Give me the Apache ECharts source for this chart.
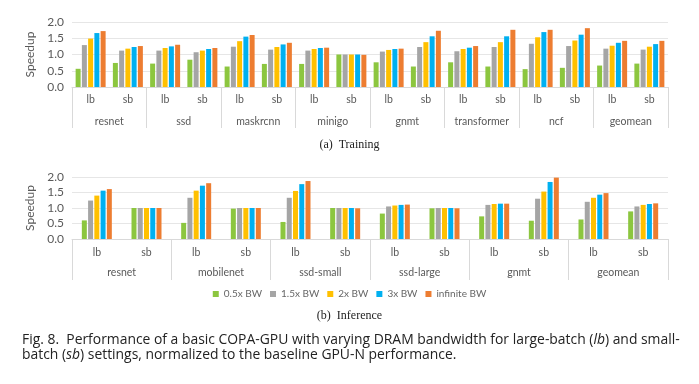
<!DOCTYPE html>
<html><head><meta charset="utf-8">
<script src="https://cdn.jsdelivr.net/npm/echarts@6/dist/echarts.min.js"></script>
<style>html,body{margin:0;padding:0;background:#fff;}#c{width:699px;height:384px;}</style>
</head><body><div id="c"></div>
<script>
var seriesNames = ['0.5x BW', '1.5x BW', '2x BW', '3x BW', 'infinite BW'];
var colors = ['#8cc63f', '#a5a5a5', '#ffc000', '#00b0f0', '#ed7d31'];
var subLabels = ['lb', 'sb'];
var trainGroups = ['resnet', 'ssd', 'maskrcnn', 'minigo', 'gnmt', 'transformer', 'ncf', 'geomean'];
var inferGroups = ['resnet', 'mobilenet', 'ssd-small', 'ssd-large', 'gnmt', 'geomean'];
var yTicks = [0, 0.5, 1.0, 1.5, 2.0];

// Training values: one array per bandwidth, order = group lb, group sb, ...
var train05 = [0.56, 0.74, 0.72, 0.84, 0.63, 0.71, 0.71, 1.00, 0.76, 0.63, 0.76, 0.63, 0.55, 0.59, 0.66, 0.72];
var train15 = [1.29, 1.12, 1.12, 1.07, 1.24, 1.15, 1.12, 1.00, 1.09, 1.23, 1.10, 1.23, 1.33, 1.26, 1.18, 1.15];
var train2  = [1.49, 1.18, 1.20, 1.12, 1.41, 1.23, 1.17, 1.00, 1.14, 1.38, 1.17, 1.38, 1.53, 1.43, 1.27, 1.24];
var train3  = [1.66, 1.23, 1.25, 1.17, 1.55, 1.31, 1.20, 1.00, 1.17, 1.56, 1.21, 1.56, 1.69, 1.61, 1.36, 1.32];
var trainInf= [1.72, 1.26, 1.30, 1.20, 1.60, 1.36, 1.21, 0.99, 1.18, 1.73, 1.26, 1.76, 1.76, 1.81, 1.42, 1.42];

// Inference values
var infer05 = [0.60, 1.00, 0.52, 0.98, 0.55, 1.00, 0.82, 0.99, 0.73, 0.59, 0.63, 0.89];
var infer15 = [1.24, 1.00, 1.33, 1.00, 1.33, 1.00, 1.05, 1.00, 1.10, 1.30, 1.20, 1.05];
var infer2  = [1.40, 1.00, 1.56, 1.00, 1.55, 1.00, 1.08, 1.00, 1.13, 1.53, 1.33, 1.10];
var infer3  = [1.56, 1.00, 1.72, 1.00, 1.77, 1.00, 1.10, 1.00, 1.14, 1.84, 1.43, 1.13];
var inferInf= [1.61, 1.00, 1.80, 1.00, 1.87, 0.99, 1.11, 0.99, 1.14, 1.98, 1.48, 1.15];

var trainData = [train05, train15, train2, train3, trainInf];
var inferData = [infer05, infer15, infer2, infer3, inferInf];

function subCats(groups) {
  var out = [];
  groups.forEach(function (g) { subLabels.forEach(function (s) { out.push(s); }); });
  return out;
}

var labelFont = 'Lato, "Open Sans", sans-serif';
var txtColor = '#595959';
var lineColor = '#d9d9d9';

function yAxis(gi) {
  return {
    gridIndex: gi, type: 'value', min: 0, max: 2, interval: 0.5,
    name: 'Speedup', nameLocation: 'middle', nameGap: 21, nameRotate: 90,
    nameTextStyle: { color: txtColor, fontSize: 12, fontFamily: labelFont },
    axisLabel: { color: txtColor, fontSize: 12, fontFamily: labelFont, margin: 8,
      formatter: function (v) { return v.toFixed(1); } },
    axisLine: { show: false }, axisTick: { show: false },
    splitLine: { lineStyle: { color: '#e6e6e6', width: 1 } }
  };
}
function subAxis(gi, groups, margin) {
  return {
    gridIndex: gi, type: 'category', data: subCats(groups), position: 'bottom',
    axisLine: { show: true, lineStyle: { color: lineColor } },
    axisTick: { show: false },
    axisLabel: { color: txtColor, fontSize: 10.5, fontFamily: labelFont, margin: margin, interval: 0 }
  };
}
function groupAxis(gi, groups, margin, tickLen) {
  return {
    gridIndex: gi, type: 'category', data: groups, position: 'bottom',
    axisLine: { show: false },
    axisTick: { show: true, length: tickLen, lineStyle: { color: lineColor } },
    axisLabel: { color: txtColor, fontSize: 10.5, fontFamily: labelFont, margin: margin, interval: 0 }
  };
}

var series = [];
seriesNames.forEach(function (n, i) {
  series.push({ name: n, type: 'bar', xAxisIndex: 0, yAxisIndex: 0, data: trainData[i],
    barWidth: 5, barGap: '25%', itemStyle: { color: colors[i] }, animation: false });
});
seriesNames.forEach(function (n, i) {
  series.push({ name: n, type: 'bar', xAxisIndex: 2, yAxisIndex: 1, data: inferData[i],
    barWidth: 5, barGap: '25%', itemStyle: { color: colors[i] }, animation: false });
});

var chart = echarts.init(document.getElementById('c'));
chart.setOption({
  animation: false,
  grid: [
    { left: 72, right: 31, top: 22, height: 65 },
    { left: 72, right: 31, top: 177, height: 62 }
  ],
  xAxis: [
    subAxis(0, trainGroups, 7),
    groupAxis(0, trainGroups, 29, 41),
    subAxis(1, inferGroups, 8),
    groupAxis(1, inferGroups, 28, 41)
  ],
  yAxis: [yAxis(0), yAxis(1)],
  legend: {
    data: seriesNames, top: 284, left: 'center',
    itemWidth: 6, itemHeight: 6, itemGap: 8, icon: 'rect',
    textStyle: { color: '#666', fontSize: 10, fontFamily: labelFont }
  },
  series: series,
  graphic: [
    { type: 'text', left: 'center', top: 139,
      style: { text: '(a)  Training', font: '12px "Liberation Serif", serif', fill: '#222' } },
    { type: 'text', left: 'center', top: 310,
      style: { text: '(b)  Inference', font: '12px "Liberation Serif", serif', fill: '#222' } },
    { type: 'text', left: 22, top: 333,
      style: {
        text: 'Fig. 8.  Performance of a basic COPA-GPU with varying DRAM bandwidth for large-batch ({i|lb}) and small-\nbatch ({i|sb}) settings, normalized to the baseline GPU-N performance.',
        font: '13.9px "Open Sans", sans-serif', fill: '#222', lineHeight: 15,
        rich: { i: { fontStyle: 'italic', fontSize: 13.9, fontFamily: '"Open Sans", sans-serif', fill: '#222' } }
      } }
  ]
});
</script>
</body></html>
